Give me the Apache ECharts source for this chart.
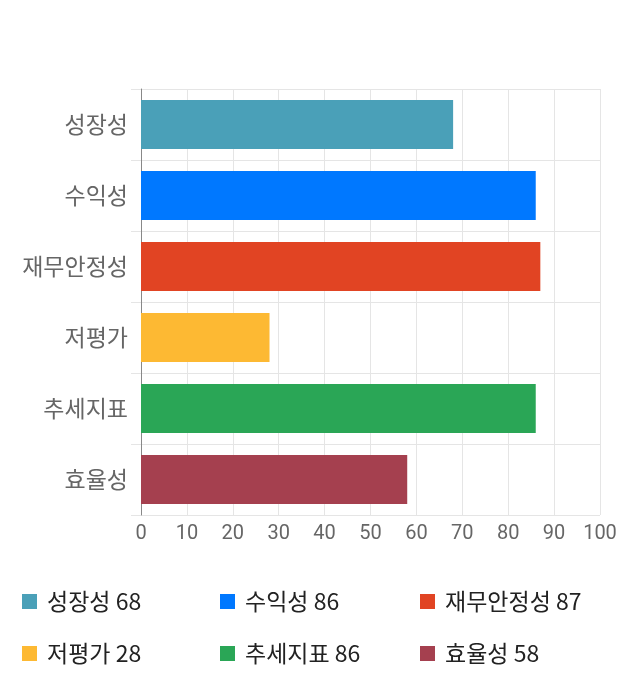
<!DOCTYPE html>
<html>
<head>
<meta charset="utf-8">
<script src="https://cdn.jsdelivr.net/npm/echarts@6/dist/echarts.min.js"></script>
<style>html,body{margin:0;padding:0;background:#fff;}#c{width:640px;height:700px;}</style>
</head>
<body>
<div id="c"></div>
<script>
const categories = ['성장성', '수익성', '재무안정성', '저평가', '추세지표', '효율성'];
const values = [68, 86, 87, 28, 86, 58];
const colors = ['#4aa0b8', '#0078ff', '#e14423', '#fdb933', '#2aa656', '#a5404f'];
const xTicks = { min: 0, max: 100, interval: 10 };

const FONT = '"Noto Sans CJK KR", "Noto Sans", sans-serif';
const chart = echarts.init(document.getElementById('c'));

const series = categories.map((name, i) => ({
  name: name,
  type: 'bar',
  stack: 'all',
  barWidth: 49,
  itemStyle: { color: colors[i] },
  data: categories.map((c, j) => (j === i ? values[i] : '-')),
  silent: true
}));

const legendPos = [
  { left: 22, top: 590 }, { left: 220, top: 590 }, { left: 420, top: 590 },
  { left: 22, top: 642 }, { left: 220, top: 642 }, { left: 420, top: 642 }
];

const legends = categories.map((name, i) => ({
  data: [name],
  left: legendPos[i].left,
  top: legendPos[i].top,
  padding: 0,
  icon: 'rect',
  itemWidth: 15,
  itemHeight: 15,
  selectedMode: false,
  formatter: n => n + ' ' + values[categories.indexOf(n)],
  textStyle: { fontFamily: FONT, fontSize: 23, color: '#222', padding: [12, 0, 0, 5] }
}));

chart.setOption({
  animation: false,
  backgroundColor: '#fff',
  grid: { left: 141, right: 40, top: 89, bottom: 185, containLabel: false },
  legend: legends,
  xAxis: {
    type: 'value',
    min: xTicks.min, max: xTicks.max, interval: xTicks.interval,
    axisLine: { show: false },
    axisTick: { show: false },
    splitLine: { show: true, lineStyle: { color: '#e5e5e5', width: 1 } },
    axisLabel: { fontFamily: 'Roboto, "Noto Sans", sans-serif', fontSize: 20, color: '#666', margin: 9 }
  },
  yAxis: {
    type: 'category',
    inverse: true,
    data: categories,
    axisLine: { show: true, lineStyle: { color: '#888', width: 1 } },
    axisTick: { show: true, length: 10, lineStyle: { color: '#e5e5e5' } },
    splitLine: { show: true, lineStyle: { color: '#e5e5e5', width: 1 } },
    axisLabel: { fontFamily: FONT, fontSize: 23, color: '#666', margin: 13 }
  },
  series: series
});
</script>
</body>
</html>
